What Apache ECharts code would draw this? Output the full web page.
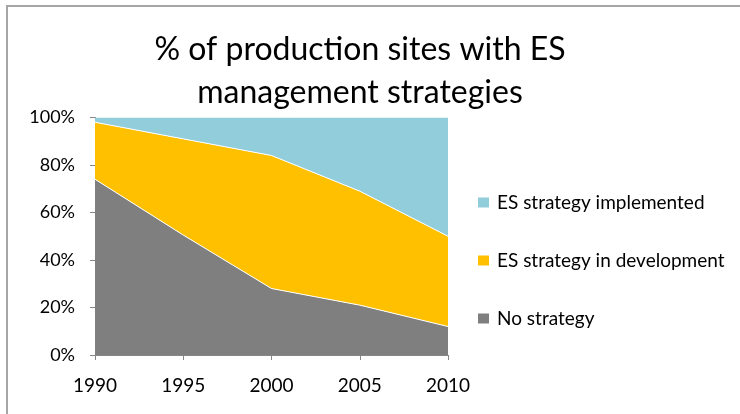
<!DOCTYPE html>
<html>
<head>
<meta charset="utf-8">
<script src="https://cdn.jsdelivr.net/npm/echarts@6/dist/echarts.min.js"></script>
<style>
html,body{margin:0;padding:0;background:#fff;overflow:hidden;}
#wrap{position:relative;width:740px;height:414px;}
#chart{position:absolute;left:0;top:0;width:740px;height:414px;}
#frame{position:absolute;left:6px;top:5px;width:740px;height:420px;border-left:2px solid #a6a6a6;border-top:2px solid #a6a6a6;pointer-events:none;}
</style>
</head>
<body>
<div id="wrap"><div id="chart"></div><div id="frame"></div></div>
<script>
const years = ['1990', '1995', '2000', '2005', '2010'];
const noStrategy = [74, 50.5, 28, 21, 12];
const inDevelopment = [24, 40.5, 56, 48, 38];
const implemented = [2, 9, 16, 31, 50];
const titleText = '% of production sites with ES\nmanagement strategies';
const seriesNames = ['No strategy', 'ES strategy in development', 'ES strategy implemented'];

const FONT = 'Lato';
const chart = echarts.init(document.getElementById('chart'), null, {renderer: 'canvas'});
const mk = (name, data, color, lineW) => ({
  name, type: 'line', stack: 'total', data,
  symbol: 'none', smooth: false,
  lineStyle: {width: lineW, color: '#ffffff'},
  itemStyle: {color},
  areaStyle: {color, opacity: 1},
  emphasis: {disabled: true}
});
chart.setOption({
  animation: false,
  title: {
    text: titleText, left: 355, top: 23, textAlign: 'center',
    textStyle: {fontFamily: FONT, fontSize: 32, fontWeight: 'normal', color: '#000', lineHeight: 43}
  },
  legend: {
    orient: 'vertical', left: 473, top: 188, itemGap: 39,
    itemWidth: 11, itemHeight: 10, icon: 'rect',
    data: [seriesNames[2], seriesNames[1], seriesNames[0]],
    textStyle: {fontFamily: FONT, fontSize: 19, color: '#000', padding: [0, 0, 0, 3]}
  },
  grid: {left: 95, right: 292, top: 117.5, bottom: 59},
  xAxis: {
    type: 'category', data: years, boundaryGap: false,
    axisLine: {lineStyle: {color: '#868686', width: 1}},
    axisTick: {show: true, length: 5, lineStyle: {color: '#868686'}},
    axisLabel: {fontFamily: FONT, fontSize: 19, color: '#000', margin: 21}
  },
  yAxis: {
    type: 'value', min: 0, max: 100, interval: 20,
    axisLine: {show: true, lineStyle: {color: '#868686', width: 1}},
    axisTick: {show: true, length: 5, lineStyle: {color: '#868686'}},
    splitLine: {show: false},
    axisLabel: {fontFamily: FONT, fontSize: 18, color: '#000', margin: 20, formatter: '{value}%'}
  },
  series: [
    mk(seriesNames[0], noStrategy, '#7f7f7f', 1),
    mk(seriesNames[1], inDevelopment, '#ffc000', 1),
    mk(seriesNames[2], implemented, '#92cddc', 0)
  ]
});
</script>
</body>
</html>
